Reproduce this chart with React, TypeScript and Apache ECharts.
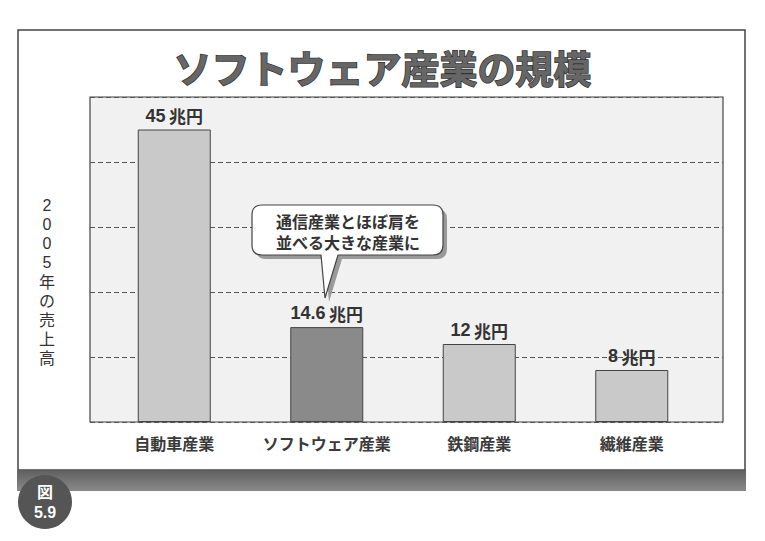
import React, { useEffect, useRef } from "react";
import * as echarts from "echarts";

const categories = ["自動車産業", "ソフトウェア産業", "鉄鋼産業", "繊維産業"];
const values = [45, 14.6, 12, 8];
const barColors = ["#c9c9c9", "#8a8a8a", "#c9c9c9", "#c9c9c9"];
const valueUnit = "兆円";
const titleText = "ソフトウェア産業の規模";
const yAxisTitle = "2005年の売上高";
const calloutLines = ["通信産業とほぼ肩を", "並べる大きな産業に"];
const figureLabel = ["図", "5.9"];

const calloutPath =
  "M262,205 H433 Q443,205 443,215 V245 Q443,255 433,255 H338 L325,298 L321,255 H262 Q252,255 252,245 V215 Q252,205 262,205 Z";

echarts.graphic.registerShape("callout", echarts.graphic.extendPath(calloutPath, {}));

const JP = "'Noto Sans CJK JP', 'Liberation Sans', sans-serif";
const NUM = "'Liberation Sans', 'Noto Sans CJK JP', sans-serif";

export default function App() {
  const ref = useRef<HTMLDivElement>(null);
  useEffect(() => {
    if (!ref.current) return;
    const chart = echarts.init(ref.current, undefined, { renderer: "svg" });
    const yTitleChars = Array.from(yAxisTitle).map((ch, i) => ({
      type: "text",
      z: 5,
      silent: true,
      style: {
        text: ch,
        x: 47,
        y: 205 + i * 19,
        align: "center",
        verticalAlign: "middle",
        lineHeight: 17,
        fill: "#333",
        font: `16px ${/[0-9]/.test(ch) ? NUM : JP}`,
      },
    }));
    chart.setOption({
      animation: false,
      backgroundColor: "#ffffff",
      title: {
        text: titleText,
        left: "center",
        top: 42,
        textStyle: {
          fontFamily: JP,
          fontSize: 38,
          fontWeight: "bold",
          color: "#666666",
          textBorderColor: "#333333",
          textBorderWidth: 1.5,
          textShadowColor: "rgba(0,0,0,0.3)",
          textShadowOffsetX: 1.5,
          textShadowOffsetY: 1.5,
          textShadowBlur: 0,
        },
      },
      grid: [
        {
          left: 90,
          top: 97,
          width: 633,
          height: 325,
          show: true,
          backgroundColor: "#f1f1f1",
          borderColor: "#444",
          borderWidth: 1.2,
          z: 0,
        },
        {
          left: 98,
          top: 97,
          width: 610,
          height: 325,
        },
      ],
      xAxis: [
        {
          type: "category",
          gridIndex: 0,
          data: categories,
          show: false,
        },
        {
          type: "category",
          gridIndex: 1,
          data: categories,
          axisLine: { show: false },
          axisTick: { show: false },
          axisLabel: {
            interval: 0,
            margin: 13,
            fontFamily: JP,
            fontSize: 16,
            fontWeight: "bold",
            color: "#3a3a3a",
          },
        },
      ],
      yAxis: [
        {
          type: "value",
          gridIndex: 0,
          min: 0,
          max: 50,
          interval: 10,
          axisLine: { show: false },
          axisTick: { show: false },
          axisLabel: { show: false },
          splitLine: { show: true, lineStyle: { color: "#555", type: [5, 3], width: 1 } },
        },
        {
          type: "value",
          gridIndex: 1,
          min: 0,
          max: 50,
          interval: 10,
          show: false,
          splitLine: { show: false },
        },
      ],
      series: [
        {
          type: "bar",
          xAxisIndex: 1,
          yAxisIndex: 1,
          barWidth: 73,
          data: values.map((v, i) => ({
            value: v,
            itemStyle: { color: barColors[i], borderColor: "#444", borderWidth: 1 },
          })),
          label: {
            show: true,
            position: "top",
            distance: 5,
            formatter: (p: any) => `{n|${p.value}} {u|${valueUnit}}`,
            rich: {
              n: { fontFamily: NUM, fontSize: 18, color: "#333", fontWeight: "bold" },
              u: { fontFamily: JP, fontSize: 17, color: "#333", fontWeight: "bold" },
            },
          },
        },
      ],
      graphic: [
        {
          type: "rect",
          z: -10,
          silent: true,
          shape: { x: 18, y: 30, width: 727, height: 440 },
          style: { fill: "#ffffff", stroke: "#444", lineWidth: 1.5 },
        },
        {
          type: "rect",
          z: -9,
          silent: true,
          shape: { x: 17, y: 470, width: 729, height: 21 },
          style: {
            fill: new echarts.graphic.LinearGradient(0, 0, 0, 1, [
              { offset: 0, color: "#5f5f5f" },
              { offset: 1, color: "#8a8a8a" },
            ]),
          },
        },
        {
          type: "circle",
          z: 10,
          silent: true,
          shape: { cx: 45, cy: 502, r: 27 },
          style: { fill: "#555555" },
        },
        {
          type: "text",
          z: 11,
          silent: true,
          style: {
            text: figureLabel[0],
            x: 45,
            y: 491,
            align: "center",
            verticalAlign: "middle",
            fill: "#ffffff",
            font: `bold 16px ${JP}`,
          },
        },
        {
          type: "text",
          z: 11,
          silent: true,
          style: {
            text: figureLabel[1],
            x: 45,
            y: 512,
            align: "center",
            verticalAlign: "middle",
            fill: "#ffffff",
            font: `bold 16px ${NUM}`,
          },
        },
        ...yTitleChars,
        {
          type: "callout",
          z: 20,
          silent: true,
          x: 4,
          y: 4,
          style: { fill: "#9a9a9a", stroke: "none" },
        },
        {
          type: "callout",
          z: 21,
          silent: true,
          x: 0,
          y: 0,
          style: { fill: "#ffffff", stroke: "#444", lineWidth: 1.2 },
        },
        {
          type: "text",
          z: 22,
          silent: true,
          style: {
            text: calloutLines.join("\n"),
            x: 348,
            y: 231,
            align: "center",
            verticalAlign: "middle",
            lineHeight: 21,
            fill: "#333",
            font: `bold 16px ${JP}`,
          },
        },
      ],
    });
    return () => chart.dispose();
  }, []);
  return (
    <div
      ref={ref}
      style={{ position: "fixed", left: 0, top: 0, width: 765, height: 541 }}
    />
  );
}
